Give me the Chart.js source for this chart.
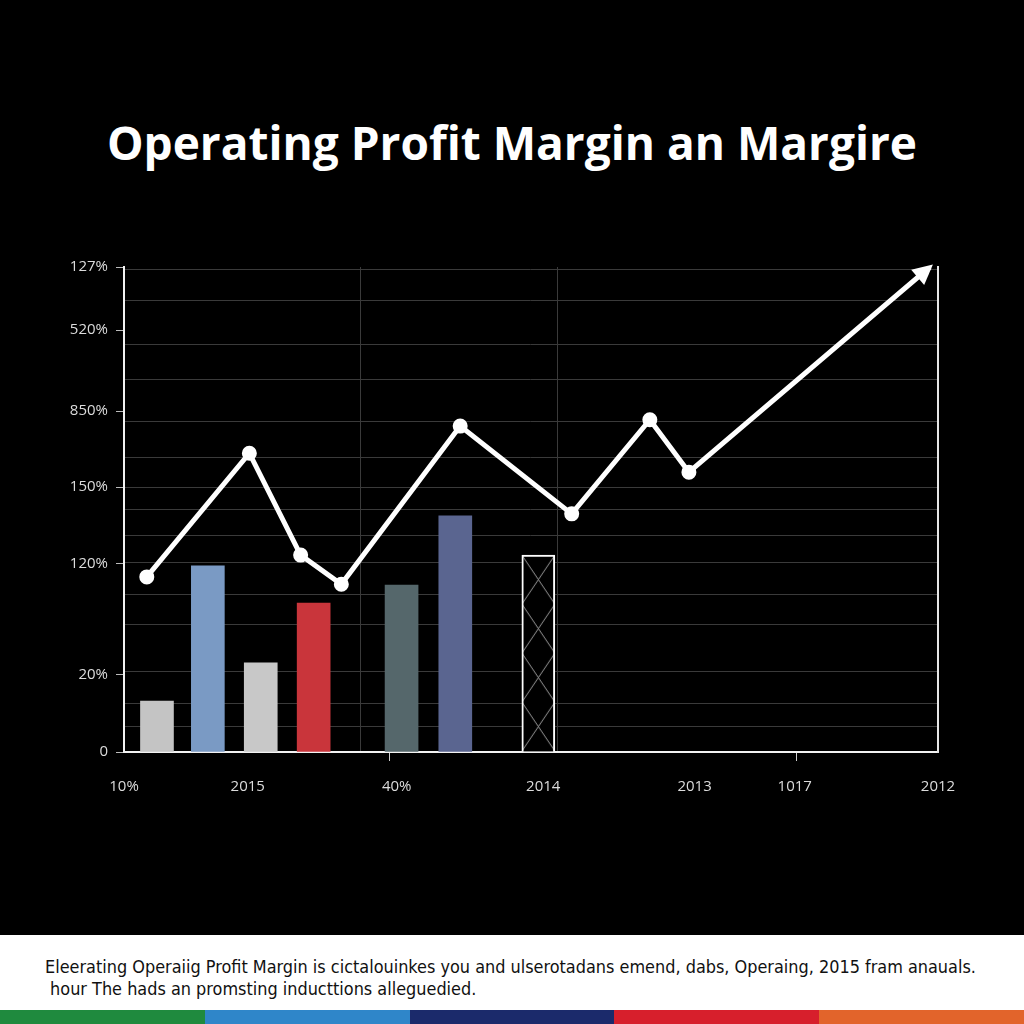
<!DOCTYPE html>
<html>
<head>
<meta charset="utf-8">
<title>Operating Profit Margin</title>
<script src="https://cdn.jsdelivr.net/npm/chart.js@4.4.1/dist/chart.umd.min.js"></script>
<style>
  html, body { margin: 0; padding: 0; background: #000; }
  #page { position: relative; width: 1024px; height: 1024px; overflow: hidden; background: #000; }
  #title {
    position: absolute; left: 0; top: 110px; width: 1024px; text-align: center;
    color: #fff; font-family: 'Open Sans', 'Noto Sans', sans-serif; font-weight: 700;
    font-size: 46px; line-height: 64px;
  }
  #chartBox { position: absolute; left: 0; top: 0; width: 1024px; height: 935px; }
  #caption {
    position: absolute; left: 0; top: 935px; width: 1024px; height: 75px; background: #fff;
  }
  #caption p {
    margin: 0; position: absolute; left: 45px; color: #111; white-space: nowrap;
    font-family: 'Liberation Sans Narrow', 'DejaVu Sans Condensed', sans-serif; font-size: 17.9px;
  }
  #strip { position: absolute; left: 0; top: 1010px; width: 1024px; height: 14px; display: flex; }
  #strip div { flex: 1; }
</style>
</head>
<body>
<div id="page">
  <div id="title">Operating Profit Margin an Margire</div>
  <div id="chartBox"><canvas id="chart"></canvas></div>
  <div id="caption">
    <p style="top:21px">Eleerating Operaiig Profit Margin is cictalouinkes you and ulserotadans emend, dabs, Operaing, 2015 fram anauals.</p>
    <p style="top:43px">&nbsp;hour The hads an promsting inducttions alleguedied.</p>
  </div>
  <div id="strip">
    <div style="background:#1f8a3e"></div>
    <div style="background:#2f86c9"></div>
    <div style="background:#1b2a6b"></div>
    <div style="background:#d71f2c"></div>
    <div style="background:#e2642b"></div>
  </div>
</div>
<script>
// ── DATA ─────────────────────────────────────────────────────
// x and y are read off the picture in plot units (0..100 across each axis)
var barX      = [4.05, 10.3, 16.8, 23.3, 34.1, 40.7, 50.9];
var barY      = [10.5, 38.4, 18.4, 30.7, 34.4, 48.7, 40.6];
var barColors = ['#c4c4c4', '#7a9ac4', '#c8c8c8', '#c9353b', '#55676b', '#5a6590', 'pattern'];

var lineX = [2.8, 15.4, 21.7, 26.7, 41.3, 55.0, 64.6, 69.4, 99.0];
var lineY = [36.1, 61.6, 40.6, 34.6, 67.2, 49.1, 68.5, 57.7, 100];

var yTickValues = [0, 15.9, 38.8, 54.6, 70.3, 87.0, 100];
var yTickLabels = ['0', '20%', '120%', '150%', '850%', '520%', '127%'];
var yGridValues = [5.2, 9.9, 16.7, 26.2, 32.4, 39.0, 44.7, 50.1, 54.6, 60.8, 68.2, 76.9, 84.1, 93.0, 99.4];

var xTickValues = [0, 15.2, 33.5, 51.5, 70.1, 82.4, 100];
var xTickLabels = ['10%', '2015', '40%', '2014', '2013', '1017', '2012'];
var xMarkValues = [32.6, 82.6];
var xGridValues = [29.0, 53.3];

// ── HELPERS ──────────────────────────────────────────────────
function toPoints(xs, ys) {
  return xs.map(function (x, i) { return { x: x, y: ys[i] }; });
}

function crossPattern(w, h) {
  var c = document.createElement('canvas');
  c.width = w; c.height = h;
  var g = c.getContext('2d');
  g.fillStyle = '#000';
  g.fillRect(0, 0, w, h);
  g.strokeStyle = '#9a9a9a';
  g.lineWidth = 1;
  g.beginPath();
  g.moveTo(0, 0); g.lineTo(w, h);
  g.moveTo(w, 0); g.lineTo(0, h);
  g.stroke();
  return c;
}

var xAllTicks = xTickValues.concat(xMarkValues, xGridValues);

// ── ARROW PLUGIN ─────────────────────────────────────────────
var arrowHead = {
  id: 'arrowHead',
  afterDatasetsDraw: function (chart) {
    var pts = chart.getDatasetMeta(1).data;
    if (pts.length < 2) return;
    var a = pts[pts.length - 2], b = pts[pts.length - 1];
    var ang = Math.atan2(b.y - a.y, b.x - a.x);
    var ctx = chart.ctx;
    ctx.save();
    ctx.translate(b.x, b.y);
    ctx.rotate(ang);
    ctx.fillStyle = '#fff';
    ctx.beginPath();
    ctx.moveTo(4, 0);
    ctx.lineTo(-16, -10);
    ctx.lineTo(-16, 10);
    ctx.closePath();
    ctx.fill();
    ctx.restore();
  }
};

// ── CHART ────────────────────────────────────────────────────
var ctx = document.getElementById('chart');
new Chart(ctx, {
  type: 'bar',
  data: {
    datasets: [
      {
        type: 'bar',
        data: toPoints(barX, barY),
        order: 2,
        barThickness: 33,
        backgroundColor: function (c) {
          var col = barColors[c.dataIndex];
          if (col !== 'pattern') return col;
          var chart = c.chart;
          if (!chart.scales.x) return '#000';
          var p = chart.ctx.createPattern(crossPattern(33, 49), 'repeat');
          var left = chart.scales.x.getPixelForValue(c.raw.x) - 16.5;
          var top = chart.scales.y.getPixelForValue(c.raw.y);
          p.setTransform(new DOMMatrix().translate(left, top));
          return p;
        },
        borderColor: function (c) { return barColors[c.dataIndex] === 'pattern' ? '#fff' : 'rgba(0,0,0,0)'; },
        borderWidth: function (c) { return barColors[c.dataIndex] === 'pattern' ? 2 : 0; }
      },
      {
        type: 'line',
        data: toPoints(lineX, lineY),
        order: 1,
        borderColor: '#fff',
        borderWidth: 5,
        tension: 0,
        pointBackgroundColor: '#fff',
        pointBorderColor: '#fff',
        pointRadius: function (c) { return c.dataIndex === lineX.length - 1 ? 0 : 5; }
      }
    ]
  },
  options: {
    responsive: true, maintainAspectRatio: false, animation: false,
    layout: { padding: { left: 0, right: 86, top: 267, bottom: 123 } },
    plugins: { legend: { display: false }, tooltip: { enabled: false }, title: { display: false } },
    scales: {
      x: {
        type: 'linear', min: 0, max: 100, offset: false,
        afterBuildTicks: function (s) { s.ticks = xAllTicks.map(function (v) { return { value: v }; }); },
        afterFit: function (s) { s.height = 60; },
        border: { display: true, color: '#f2f2f2', width: 2 },
        grid: {
          offset: false,
          color: function (c) { return xGridValues.indexOf(c.tick && c.tick.value) >= 0 ? '#3a3a3a' : 'rgba(0,0,0,0)'; },
          tickColor: function (c) { return xMarkValues.indexOf(c.tick && c.tick.value) >= 0 ? '#cfcfcf' : 'rgba(0,0,0,0)'; },
          tickLength: 9
        },
        ticks: {
          autoSkip: false, maxRotation: 0, padding: 17,
          color: '#dcdcdc', font: { family: 'Open Sans', size: 15 },
          callback: function (v) {
            var i = xTickValues.indexOf(v);
            return i >= 0 ? xTickLabels[i] : '';
          }
        }
      },
      y: {
        type: 'linear', min: 0, max: 100,
        afterBuildTicks: function (s) { s.ticks = yTickValues.map(function (v) { return { value: v }; }); },
        afterFit: function (s) { s.width = 124; },
        border: { display: true, color: '#f2f2f2', width: 2 },
        grid: { drawOnChartArea: false, color: '#bbbbbb', tickLength: 8 },
        ticks: {
          padding: 8, color: '#dcdcdc', font: { family: 'Open Sans', size: 15 },
          callback: function (v) {
            var i = yTickValues.indexOf(v);
            return i >= 0 ? yTickLabels[i] : '';
          }
        }
      },
      y2: {
        type: 'linear', position: 'right', min: 0, max: 100,
        afterBuildTicks: function (s) { s.ticks = yGridValues.map(function (v) { return { value: v }; }); },
        afterFit: function (s) { s.width = 0; },
        border: { display: true, color: '#e6e6e6', width: 2 },
        grid: { color: '#3a3a3a', lineWidth: 1, drawTicks: false },
        ticks: { display: false }
      }
    }
  },
  plugins: [arrowHead]
});
</script>
</body>
</html>
